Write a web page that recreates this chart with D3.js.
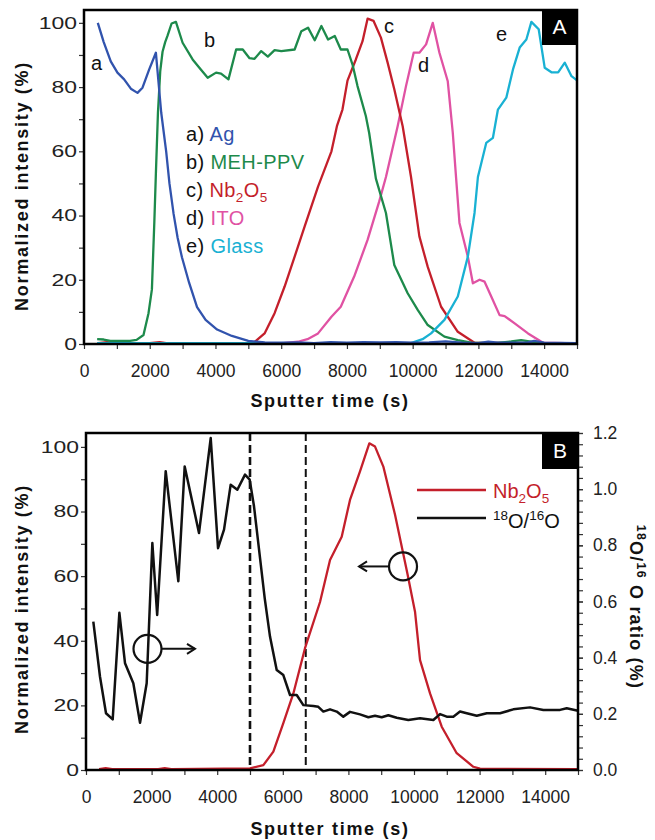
<!DOCTYPE html>
<html>
<head>
<meta charset="utf-8">
<script src="https://cdn.jsdelivr.net/npm/d3@7/dist/d3.min.js"></script>
<style>
  html, body { margin: 0; padding: 0; background: #fff; }
  svg { display: block; font-family: "Liberation Sans", Arial, sans-serif; }
</style>
</head>
<body>
<svg id="chart" width="655" height="840"></svg>
<script>
// ---- Depth profile data (sputter time in s, normalized intensity in %) ----
const agT  = [420,600,814,1017,1221,1425,1627,1780,1984,2187,2350,2500,2600,2726,2850,2980,3200,3440,3700,4050,4500,5000,5500,6000,6500,7000,7500,8000,8500,9000,9500,10000,10500,11000,11500,12000,12300,12600,13500,13700,14000,15000];
const agV  = [100,94,88,84.5,82.4,79.5,78.2,79.8,85.5,90.7,72,60,50,40.5,33,27,19,11.5,7.5,4.5,2.5,1.0,0.5,0.4,0.5,0.3,0.6,0.4,0.6,0.5,0.6,0.4,0.5,0.8,0.4,0.3,0.7,0.4,0.5,1.0,0.4,0.3];

const mehT = [400,600,800,1000,1200,1400,1600,1810,1963,2066,2140,2187,2250,2320,2390,2470,2542,2665,2797,3000,3305,3510,3764,4018,4170,4395,4629,4831,5036,5188,5392,5594,5799,6002,6409,6613,6816,7020,7223,7425,7630,7813,8017,8170,8322,8575,8677,8881,9187,9441,9848,10153,10459,10966,11373,11780,12500,13000,13300,13700,14000,15000];
const mehV = [1.5,1.4,1.0,1.0,1.0,1.0,1.3,2.8,9.6,17,38,53,72,85,91,94,96,99.8,100.3,93.8,88.6,86,82.9,84.5,84.2,82.4,91.7,91.7,89,88.8,91.2,89.5,91.5,91.2,91.7,97.4,98.5,94.6,99,94.8,95.9,91.7,91.7,87,80.3,71,65.7,51.5,40.8,24.6,15.8,10.6,5.9,2.3,1.2,0.4,0.3,0.8,1.2,0.6,0.3,0.3];

const nbT  = [420,700,900,2000,2300,2500,5000,5167,5494,5799,6104,6409,6714,7121,7529,7700,7864,8017,8271,8475,8628,8811,9034,9238,9441,9696,9950,10204,10459,10865,11373,11882,15000];
const nbV  = [0.3,0.6,0.3,0.3,0.6,0.3,0.3,0.4,3.3,9.6,17.9,27.2,36.6,49,60,68,73,82,88.6,94.3,101.3,100.6,95.4,87.6,79.3,67.8,52,33.5,24,11.6,3.8,0.4,0.2];

const itoT = [400,6000,6510,6800,7121,7529,7813,8220,8628,8983,9187,9543,9797,10031,10204,10408,10611,10814,11068,11221,11323,11424,11679,11832,12035,12188,12391,12645,12798,13103,13510,13968,15000];
const itoV = [0.2,0.2,0.7,1.5,3.3,8.5,11.6,21,32.4,44.4,52,67.8,80.3,90.7,90.7,93.3,100,90.7,81.8,65.7,51.5,37.7,27.2,18.9,20,19.4,14.8,9,8.7,6.4,3.3,0.4,0.2];

const glassT = [400,9950,10300,10560,10966,11373,11679,11882,11985,12238,12442,12594,12849,13052,13256,13459,13612,13835,14018,14222,14426,14629,14833,15000];
const glassV = [0.3,0.3,1.5,3.3,7.5,14.8,27.2,40.8,52,62.6,64.2,73,76.7,85.5,92.3,94.8,100.3,98,86,84.6,84.6,87.6,83.4,82.1];

// ---- Panel B: Nb2O5 intensity (%) and 18O/16O ratio ----
const nbBT = [400,600,800,2200,2400,2600,5000,5407,5712,6016,6322,6677,7135,7440,7796,8049,8354,8638,8812,9065,9422,9797,10031,10184,10489,10845,11302,11810,12013,15000];
const nbBV = [0.3,0.6,0.3,0.3,0.6,0.3,0.5,1.5,5.7,14.5,23.7,37.7,52,65,72.2,83.6,92.4,101.1,100.1,93.9,79,60.9,49,34,23.7,13.4,5.2,1,0.4,0.3];

const ratioT = [223,427,610,814,1017,1190,1443,1647,1850,2023,2170,2430,2815,3009,3445,3802,4025,4208,4411,4614,4848,4990,5122,5450,5610,5814,6016,6220,6424,6626,6931,7083,7236,7440,7644,7845,8049,8354,8608,8812,9015,9217,9473,9827,10184,10590,10793,10998,11199,11403,11607,11912,12217,12623,13028,13537,13943,14452,14656,15000];
const ratioV = [0.528,0.332,0.202,0.18,0.56,0.38,0.309,0.168,0.309,0.808,0.552,1.064,0.672,1.081,0.844,1.182,0.79,0.856,1.016,0.998,1.052,1.034,0.939,0.61,0.475,0.356,0.338,0.267,0.267,0.231,0.228,0.225,0.208,0.216,0.208,0.19,0.207,0.198,0.188,0.193,0.188,0.195,0.186,0.178,0.184,0.178,0.199,0.19,0.19,0.208,0.202,0.193,0.202,0.202,0.216,0.223,0.214,0.214,0.22,0.211];

// layer interfaces marked in panel B (s)
const interfaces = [5000, 6700];

// axis tick values
const xMajor = d3.range(0, 15001, 2000);
const xMinor = d3.range(1000, 15001, 2000);
const yMajor = d3.range(0, 101, 20);
const yMinor = d3.range(10, 101, 20);
const rMajor = [0, 0.2, 0.4, 0.6, 0.8, 1.0, 1.2];
const rMinor = d3.range(0, 1.2001, 0.04);

const series = [
  { label: "a) ", name: "Ag",      t: agT,    v: agV,    color: "#3153ad" },
  { label: "b) ", name: "MEH-PPV", t: mehT,   v: mehV,   color: "#1d8a4b" },
  { label: "c) ", name: "Nb2O5",   t: nbT,    v: nbV,    color: "#c41f2b" },
  { label: "d) ", name: "ITO",     t: itoT,   v: itoV,   color: "#e052a3" },
  { label: "e) ", name: "Glass",   t: glassT, v: glassV, color: "#19b1d3" }
];

const svg = d3.select("#chart");
const tickColor = "#333";
const textColor = "#222";
const FONT = '"Liberation Sans", Arial, sans-serif';

function zip(t, v) { return t.map((d, i) => [d, v[i]]); }

// strip D3's default axis font so the page font is used
function styleAxis(g) {
  g.attr("font-family", FONT);
  g.selectAll("g").attr("font-family", FONT);
  g.selectAll(".domain").remove();
  g.selectAll("line").attr("stroke", tickColor).attr("stroke-width", 1.2);
}

// Draws the x/left axes with major + minor ticks; the left labels are drawn wide
function drawAxes(g, x, y, x0, y0) {
  const bottom = g.append("g").attr("transform", `translate(0,${y0})`);
  bottom.call(d3.axisBottom(x).tickValues(xMajor).tickSize(5).tickSizeOuter(0).tickPadding(16).tickFormat(d3.format("d")));
  bottom.append("g").call(d3.axisBottom(x).tickValues(xMinor).tickSize(5).tickSizeOuter(0).tickFormat(""));
  styleAxis(bottom);
  bottom.selectAll("text").attr("font-size", 17.5).attr("fill", textColor);

  const left = g.append("g").attr("transform", `translate(${x0},0)`);
  left.call(d3.axisLeft(y).tickValues(yMajor).tickSize(5).tickSizeOuter(0).tickPadding(2).tickFormat(d3.format("d")));
  left.append("g").call(d3.axisLeft(y).tickValues(yMinor).tickSize(5).tickSizeOuter(0).tickFormat(""));
  styleAxis(left);
  left.selectAll("text")
    .attr("font-size", 17).attr("fill", textColor)
    .attr("x", -7 / 1.35).attr("transform", "scale(1.35,1)");
}

function axisTitles(xTitleY, yTitleCy) {
  svg.append("text")
    .attr("x", 330).attr("y", xTitleY)
    .attr("text-anchor", "middle").attr("font-weight", "bold")
    .attr("font-size", 18).attr("letter-spacing", 1.7).attr("fill", "#111")
    .text("Sputter time (s)");
  svg.append("text")
    .attr("transform", `translate(28,${yTitleCy}) rotate(-90)`)
    .attr("text-anchor", "middle").attr("font-weight", "bold")
    .attr("font-size", 18).attr("letter-spacing", 1.7).attr("fill", "#111")
    .text("Normalized intensity (%)");
}

function panelTag(x, y, w, h, letter, baseline) {
  svg.append("rect").attr("x", x).attr("y", y).attr("width", w).attr("height", h).attr("fill", "#000");
  svg.append("text").attr("x", x + w / 2).attr("y", baseline)
    .attr("text-anchor", "middle").attr("fill", "#fff").attr("font-size", 21).text(letter);
}

// ================= Panel A =================
const A = { left: 84, right: 577, top: 10, bottom: 344 };
const xA = d3.scaleLinear([0, 15000], [A.left, A.right]);
const yA = d3.scaleLinear([0, 104], [A.bottom, A.top]);
const gA = svg.append("g");
const lineA = d3.line().x(d => xA(d[0])).y(d => yA(d[1]));

drawAxes(gA, xA, yA, A.left, A.bottom);

const drawOrder = [3, 2, 1, 4, 0];
drawOrder.forEach(i => {
  const s = series[i];
  gA.append("path").datum(zip(s.t, s.v))
    .attr("fill", "none").attr("stroke", s.color).attr("stroke-width", 2.3)
    .attr("stroke-linejoin", "round").attr("d", lineA);
});

gA.append("rect").attr("x", A.left).attr("y", A.top)
  .attr("width", A.right - A.left).attr("height", A.bottom - A.top)
  .attr("fill", "none").attr("stroke", "#000").attr("stroke-width", 2.5);

// curve letters
const curveTags = [["a", 91, 70], ["b", 204, 47], ["c", 384, 33], ["d", 418, 72], ["e", 496, 41]];
curveTags.forEach(([l, x, y]) => {
  gA.append("text").attr("x", x).attr("y", y).attr("font-size", 20).attr("fill", "#111").text(l);
});

// legend list
series.forEach((s, i) => {
  const t = gA.append("text").attr("x", 186).attr("y", 141 + i * 28)
    .attr("font-size", 20).attr("letter-spacing", 0.4);
  t.append("tspan").attr("fill", "#111").text(s.label);
  const n = t.append("tspan").attr("fill", s.color);
  if (s.name === "Nb2O5") {
    n.text("Nb");
    t.append("tspan").attr("fill", s.color).attr("font-size", 13.5).attr("dy", 5).text("2");
    t.append("tspan").attr("fill", s.color).attr("dy", -5).text("O");
    t.append("tspan").attr("fill", s.color).attr("font-size", 13.5).attr("dy", 5).text("5");
  } else {
    n.text(s.name);
  }
});

panelTag(542, 10, 35, 35, "A", 34);
axisTitles(407, 186);

// ================= Panel B =================
const B = { left: 86, right: 578, top: 433, bottom: 770 };
const xB = d3.scaleLinear([0, 15000], [B.left, B.right]);
const yB = d3.scaleLinear([0, 104.3], [B.bottom, B.top]);
const rB = d3.scaleLinear([0, 1.2], [B.bottom, B.top]);
const gB = svg.append("g");

drawAxes(gB, xB, yB, B.left, B.bottom);

// right ratio axis
const right = gB.append("g").attr("transform", `translate(${B.right},0)`);
right.call(d3.axisRight(rB).tickValues(rMajor).tickSize(5).tickSizeOuter(0).tickPadding(10).tickFormat(d3.format(".1f")));
right.append("g").call(d3.axisRight(rB).tickValues(rMinor).tickSize(5).tickSizeOuter(0).tickFormat(""));
styleAxis(right);
right.selectAll("text").attr("font-size", 17.5).attr("fill", textColor);

// interface markers
interfaces.forEach((t, i) => {
  gB.append("line").attr("x1", xB(t)).attr("x2", xB(t))
    .attr("y1", B.top).attr("y2", B.bottom)
    .attr("stroke", "#111").attr("stroke-width", i === 0 ? 2.6 : 2)
    .attr("stroke-dasharray", "8,4");
});

gB.append("path").datum(zip(nbBT, nbBV))
  .attr("fill", "none").attr("stroke", "#c41f2b").attr("stroke-width", 2.3)
  .attr("stroke-linejoin", "round")
  .attr("d", d3.line().x(d => xB(d[0])).y(d => yB(d[1])));

gB.append("path").datum(zip(ratioT, ratioV))
  .attr("fill", "none").attr("stroke", "#111").attr("stroke-width", 2.5)
  .attr("stroke-linejoin", "round")
  .attr("d", d3.line().x(d => xB(d[0])).y(d => rB(d[1])));

gB.append("rect").attr("x", B.left).attr("y", B.top)
  .attr("width", B.right - B.left).attr("height", B.bottom - B.top)
  .attr("fill", "none").attr("stroke", "#000").attr("stroke-width", 2.5);

// circle + arrow pointing to the axis each curve belongs to
function circleArrow(t, v, tEnd) {
  const cx = xB(t), cy = yB(v), r = 14;
  const ex = xB(tEnd);
  const dir = ex > cx ? 1 : -1;
  gB.append("circle").attr("cx", cx).attr("cy", cy).attr("r", r)
    .attr("fill", "none").attr("stroke", "#111").attr("stroke-width", 2.2);
  gB.append("line").attr("x1", cx + dir * r).attr("x2", ex).attr("y1", cy).attr("y2", cy)
    .attr("stroke", "#111").attr("stroke-width", 2);
  gB.append("path")
    .attr("d", `M${ex - dir * 8},${cy - 5} L${ex},${cy} L${ex - dir * 8},${cy + 5}`)
    .attr("fill", "none").attr("stroke", "#111").attr("stroke-width", 2);
}
circleArrow(1875, 37.5, 3323);
circleArrow(9665, 63, 8324);

// legend
gB.append("line").attr("x1", 417).attr("x2", 486).attr("y1", 490).attr("y2", 490)
  .attr("stroke", "#c41f2b").attr("stroke-width", 2.5);
gB.append("line").attr("x1", 417).attr("x2", 486).attr("y1", 518).attr("y2", 518)
  .attr("stroke", "#111").attr("stroke-width", 2.5);
const lgNb = gB.append("text").attr("x", 493).attr("y", 498).attr("font-size", 20).attr("fill", "#c41f2b");
lgNb.append("tspan").text("Nb");
lgNb.append("tspan").attr("font-size", 13.5).attr("dy", 5).text("2");
lgNb.append("tspan").attr("dy", -5).text("O");
lgNb.append("tspan").attr("font-size", 13.5).attr("dy", 5).text("5");
const lgR = gB.append("text").attr("x", 493).attr("y", 528).attr("font-size", 20).attr("fill", "#111");
lgR.append("tspan").attr("font-size", 13.5).attr("dy", -8).text("18");
lgR.append("tspan").attr("dy", 8).text("O/");
lgR.append("tspan").attr("font-size", 13.5).attr("dy", -8).text("16");
lgR.append("tspan").attr("dy", 8).text("O");

panelTag(542, 433, 36, 36, "B", 458);
axisTitles(835, 609);

// right axis title
const rt = svg.append("text")
  .attr("transform", "translate(630,607) rotate(90)")
  .attr("text-anchor", "middle").attr("font-weight", "bold")
  .attr("font-size", 18).attr("letter-spacing", 1.2).attr("fill", "#111");
rt.append("tspan").attr("font-size", 12.5).attr("dy", -7).text("18");
rt.append("tspan").attr("dy", 7).text("O/");
rt.append("tspan").attr("font-size", 12.5).attr("dy", -7).text("16");
rt.append("tspan").attr("dy", 7).text(" O ratio (%)");
</script>
</body>
</html>
